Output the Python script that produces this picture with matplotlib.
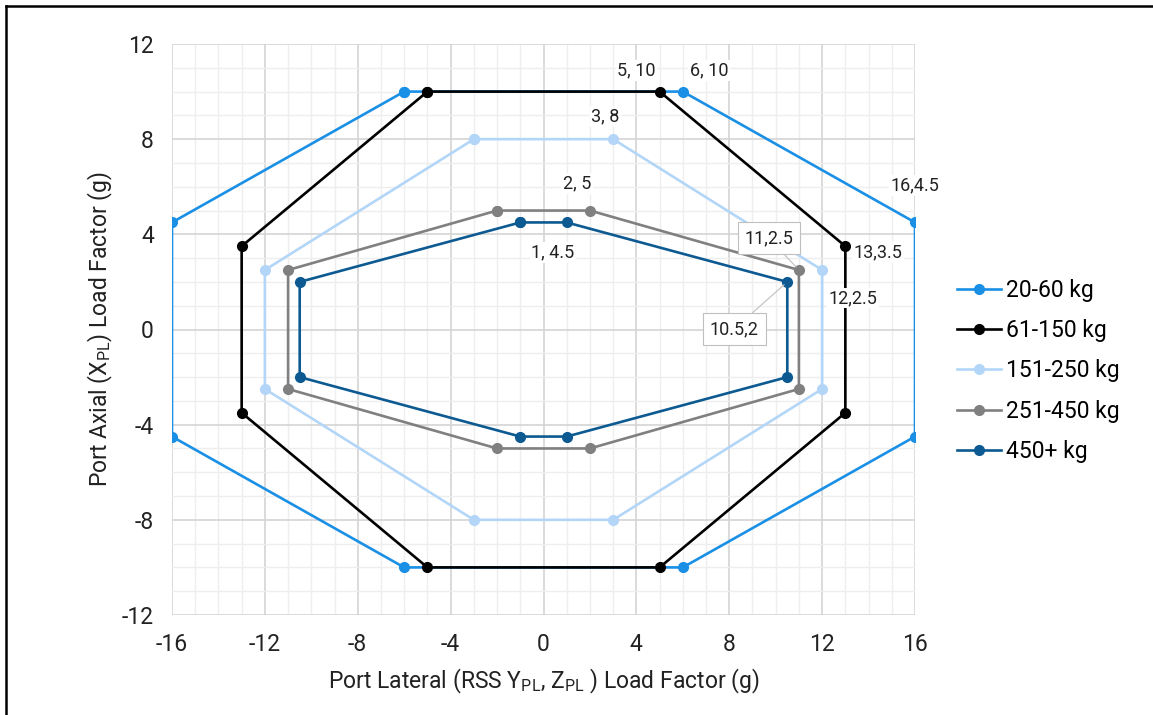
import matplotlib
matplotlib.use("Agg")
import matplotlib.pyplot as plt
from matplotlib.lines import Line2D
from matplotlib.ticker import MultipleLocator

plt.rcParams['font.family'] = ['Roboto', 'DejaVu Sans']
plt.rcParams['mathtext.fontset'] = 'custom'
plt.rcParams['mathtext.rm'] = 'Roboto'
plt.rcParams['axes.unicode_minus'] = False

# 数据：各质量段的载荷包络
labels = ['20-60 kg', '61-150 kg', '151-250 kg', '251-450 kg', '450+ kg']
colors = ['#1a8fe6', '#000000', '#b3d6f8', '#808080', '#0c5a91']

x_20_60 = [-6, 6, 16, 16, 6, -6, -16, -16, -6]
y_20_60 = [10, 10, 4.5, -4.5, -10, -10, -4.5, 4.5, 10]
x_61_150 = [-5, 5, 13, 13, 5, -5, -13, -13, -5]
y_61_150 = [10, 10, 3.5, -3.5, -10, -10, -3.5, 3.5, 10]
x_151_250 = [-3, 3, 12, 12, 3, -3, -12, -12, -3]
y_151_250 = [8, 8, 2.5, -2.5, -8, -8, -2.5, 2.5, 8]
x_251_450 = [-2, 2, 11, 11, 2, -2, -11, -11, -2]
y_251_450 = [5, 5, 2.5, -2.5, -5, -5, -2.5, 2.5, 5]
x_450 = [-1, 1, 10.5, 10.5, 1, -1, -10.5, -10.5, -1]
y_450 = [4.5, 4.5, 2, -2, -4.5, -4.5, -2, 2, 4.5]

series = [(x_20_60, y_20_60), (x_61_150, y_61_150), (x_151_250, y_151_250),
          (x_251_450, y_251_450), (x_450, y_450)]

fig = plt.figure(figsize=(11.53, 7.15), dpi=100)
ax = fig.add_axes([172/1153, 1-615/715, (915-172)/1153, (615-44)/715])

for (xs, ys), c, lab in zip(series, colors, labels):
    ax.plot(xs, ys, color=c, lw=1.9, marker='o', ms=7, label=lab, zorder=3)

ax.set_xlim(-16, 16)
ax.set_ylim(-12, 12)
ax.xaxis.set_major_locator(MultipleLocator(4))
ax.yaxis.set_major_locator(MultipleLocator(4))
ax.xaxis.set_minor_locator(MultipleLocator(1))
ax.yaxis.set_minor_locator(MultipleLocator(1))
ax.grid(which='major', color='#d4d4d4', lw=1.2)
ax.grid(which='minor', color='#eeeeee', lw=1.0)
ax.set_axisbelow(True)
for s in ax.spines.values():
    s.set_visible(False)
ax.tick_params(which='both', length=0, labelsize=16.5, pad=13, colors='#222222')

ax.set_xlabel('Port Lateral (RSS Y$_{\\mathrm{PL}}$, Z$_{\\mathrm{PL}}$ ) Load Factor (g)',
              fontsize=16.5, color='#222222', labelpad=8)
ax.set_ylabel('Port Axial (X$_{\\mathrm{PL}}$) Load Factor (g)',
              fontsize=16.5, color='#222222', labelpad=5)

# 数据标签（偏移单位：像素）
k = 0.72
bg = dict(facecolor='white', edgecolor='none', pad=1)
box = dict(facecolor='white', edgecolor='#bfbfbf', lw=0.8, pad=5)
notes = [
    ('5, 10', (5, 10), (-23, 21)),
    ('6, 10', (6, 10), (26, 21)),
    ('3, 8', (3, 8), (-8, 23)),
    ('2, 5', (2, 5), (-13, 27)),
    ('1, 4.5', (1, 4.5), (-14, -30)),
    ('16,4.5', (16, 4.5), (0, 37)),
    ('13,3.5', (13, 3.5), (33, -6)),
    ('12,2.5', (12, 2.5), (31, -28)),
]
for txt, xy, off in notes:
    ax.annotate(txt, xy=xy, xytext=(off[0]*k, off[1]*k), textcoords='offset points',
                ha='center', va='center', fontsize=13, color='#222222',
                bbox=bg, zorder=4)

ax.annotate('11,2.5', xy=(11, 2.5), xytext=(-30*k, 32*k), textcoords='offset points',
            ha='center', va='center', fontsize=13, color='#222222', bbox=box,
            arrowprops=dict(arrowstyle='-', color='#bfbfbf', lw=0.8,
                            shrinkA=0, shrinkB=3), zorder=4)
ax.annotate('10.5,2', xy=(10.5, 2), xytext=(-53*k, -47*k), textcoords='offset points',
            ha='center', va='center', fontsize=13, color='#222222', bbox=box,
            arrowprops=dict(arrowstyle='-', color='#bfbfbf', lw=0.8,
                            shrinkA=0, shrinkB=3), zorder=4)

handles = [Line2D([], [], color=c, lw=1.9, marker='o', ms=7) for c in colors]
fig.legend(handles, labels, loc='center left', bbox_to_anchor=(957/1153, 1-371/715),
           frameon=False, fontsize=16.5, handlelength=1.9, handletextpad=0.25,
           labelspacing=0.76, borderpad=0, borderaxespad=0)

# 外框（左、上）
fig.add_artist(Line2D([5.5/1153, 5.5/1153], [0, 1-6/715], transform=fig.transFigure,
                      color='black', lw=1.8))
fig.add_artist(Line2D([5.5/1153, 1], [1-6/715, 1-6/715], transform=fig.transFigure,
                      color='black', lw=1.8))

fig.savefig('out.png', dpi=100)
